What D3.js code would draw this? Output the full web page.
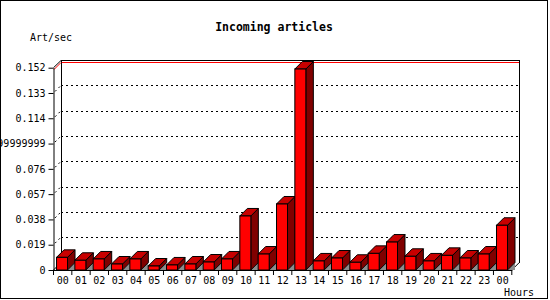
<!DOCTYPE html>
<html>
<head>
<meta charset="utf-8">
<script src="https://cdn.jsdelivr.net/npm/d3@7"></script>
<style>
  html, body { margin: 0; padding: 0; background: #fff; }
  svg { display: block; }
  text { font-family: "DejaVu Sans Mono", monospace; }
</style>
</head>
<body>
<svg id="chart" width="550" height="300"></svg>
<script>
// ---- data ----
const hours = ["00","01","02","03","04","05","06","07","08","09","10","11",
               "12","13","14","15","16","17","18","19","20","21","22","23","00"];
const artPerSec = [0.0095, 0.0073, 0.0083, 0.0045, 0.0083, 0.0030, 0.0038, 0.0045,
                   0.0060, 0.0083, 0.0406, 0.0120, 0.0496, 0.1510, 0.0068, 0.0090,
                   0.0058, 0.0125, 0.0210, 0.0103, 0.0068, 0.0110, 0.0090, 0.0120, 0.0336];
const yTickValues = [0, 0.019, 0.038, 0.057, 0.076, 0.095, 0.114, 0.133, 0.152];
const yTickLabels = ["0","0.019","0.038","0.057","0.076","0.09499999999999","0.114","0.133","0.152"];
const title = "Incoming articles";
const yTitle = "Art/sec";
const xTitle = "Hours";

// ---- layout ----
const svg = d3.select("#chart");
const D = 7.5;               // 3D depth
const x0 = 53.5, x1 = 511.8; // front plane horizontal extent
const yBase = 270, yTop = 67.7;

const x = d3.scaleBand().domain(d3.range(hours.length)).range([x0, x1]).padding(0);
const y = d3.scaleLinear().domain([0, 0.152]).range([yBase, yTop]);
const step = x.step();

// outer frame
svg.append("rect").attr("x", 0.5).attr("y", 0.5).attr("width", 547).attr("height", 298)
  .attr("fill", "#fff").attr("stroke", "#000");

const yMaxAxis = y(0.152);
const yBackTop = Math.round(yMaxAxis - D) + 0.5;
const g = svg.append("g");
// back wall outline
g.append("path")
  .attr("d", `M${x0 + D},${yBase - D} L${x0 + D},${yBackTop} L${x1 + D},${yBackTop} L${x1 + D},${yBase - D}`)
  .attr("fill", "none").attr("stroke", "#000").attr("shape-rendering", "crispEdges");
// side wall top diagonal and floor diagonals
g.append("line").attr("x1", x0).attr("y1", yMaxAxis).attr("x2", x0 + D).attr("y2", yBackTop).attr("stroke", "#000");
g.append("line").attr("x1", x0).attr("y1", yBase).attr("x2", x0 + D).attr("y2", yBase - D).attr("stroke", "#000");
g.append("line").attr("x1", x1).attr("y1", yBase).attr("x2", x1 + D).attr("y2", yBase - D).attr("stroke", "#000");

// grid lines (back wall horizontal + side wall diagonal), dotted
const gridVals = yTickValues.filter(v => v > 0 && v < 0.152);
g.selectAll(".hgrid").data(gridVals).join("line")
  .attr("x1", x0 + D).attr("x2", x1 + D)
  .attr("y1", d => Math.round(y(d) - D) + 0.5).attr("y2", d => Math.round(y(d) - D) + 0.5)
  .attr("stroke", "#000").attr("stroke-dasharray", "2,3").attr("shape-rendering", "crispEdges");
g.selectAll(".dgrid").data(gridVals).join("line")
  .attr("x1", x0 + 1.5).attr("y1", d => y(d) - 1.5)
  .attr("x2", x0 + D).attr("y2", d => y(d) - D)
  .attr("stroke", "#000").attr("stroke-dasharray", "2,3");

// max line (red) at data maximum on back & side walls
const maxV = d3.max(artPerSec);
const yRed = Math.round(y(maxV) - D) + 0.5;
g.append("line").attr("x1", x0 + 0.5).attr("y1", y(maxV) + 0.5).attr("x2", x0 + D).attr("y2", yRed)
  .attr("stroke", "#ff0000");
g.append("line").attr("x1", x0 + D + 0.5).attr("x2", x1 + D - 0.5).attr("y1", yRed).attr("y2", yRed)
  .attr("stroke", "#ff0000").attr("shape-rendering", "crispEdges");

// bars
const bw = step * 0.6;
const bars = svg.append("g").attr("stroke", "#000").attr("stroke-width", 1).attr("stroke-linejoin", "miter");
artPerSec.forEach((v, i) => {
  const xl = x(i) + step * 0.165;
  const xr = xl + bw;
  const yt = y(v);
  // floor shadow
  bars.append("path")
    .attr("d", `M${xr},${yBase} L${xr + D},${yBase - D} L${xr + D},${yBase} Z`)
    .attr("fill", "#8c8c8c").attr("stroke", "none");
  // side face
  bars.append("path")
    .attr("d", `M${xr},${yt} L${xr + D},${yt - D} L${xr + D},${yBase - D} L${xr},${yBase} Z`)
    .attr("fill", "#800000");
  // top face
  bars.append("path")
    .attr("d", `M${xl},${yt} L${xl + D},${yt - D} L${xr + D},${yt - D} L${xr},${yt} Z`)
    .attr("fill", "#c80000");
  // front face
  bars.append("rect")
    .attr("x", xl).attr("y", yt).attr("width", bw).attr("height", yBase - yt)
    .attr("fill", "#ff0000");
});

// y axis
const yAxis = d3.axisLeft(y).tickValues(yTickValues)
  .tickFormat((d, i) => yTickLabels[i]).tickSize(5).tickSizeOuter(0).tickPadding(3);
const ya = svg.append("g").attr("transform", `translate(${x0},0)`).call(yAxis);
ya.selectAll("text").attr("font-size", "10px").attr("fill", "#000")
  .attr("font-family", "'DejaVu Sans Mono', monospace");
ya.selectAll("line, path").attr("stroke", "#000");

// x axis
const xa = svg.append("g").attr("transform", `translate(0,${yBase})`)
  .call(d3.axisBottom(x).tickFormat(i => hours[i]).tickSize(0).tickSizeOuter(0).tickPadding(7));
xa.select(".domain").attr("stroke", "#000");
xa.selectAll("text").attr("font-size", "10px").attr("fill", "#000")
  .attr("font-family", "'DejaVu Sans Mono', monospace");
// boundary ticks
const bounds = d3.range(hours.length + 1).map(i => i < hours.length ? x(i) : x1);
xa.selectAll(".btick").data(bounds).join("line")
  .attr("x1", d => d).attr("x2", d => d).attr("y1", 0).attr("y2", 5)
  .attr("stroke", "#000");

// titles
svg.append("text").attr("x", 274).attr("y", 31).attr("text-anchor", "middle")
  .attr("font-size", "11.5px").attr("font-weight", "bold").text(title);
svg.append("text").attr("x", 30).attr("y", 41).attr("font-size", "10px").text(yTitle);
svg.append("text").attr("x", 504).attr("y", 296).attr("font-size", "10px").text(xTitle);
</script>
</body>
</html>
